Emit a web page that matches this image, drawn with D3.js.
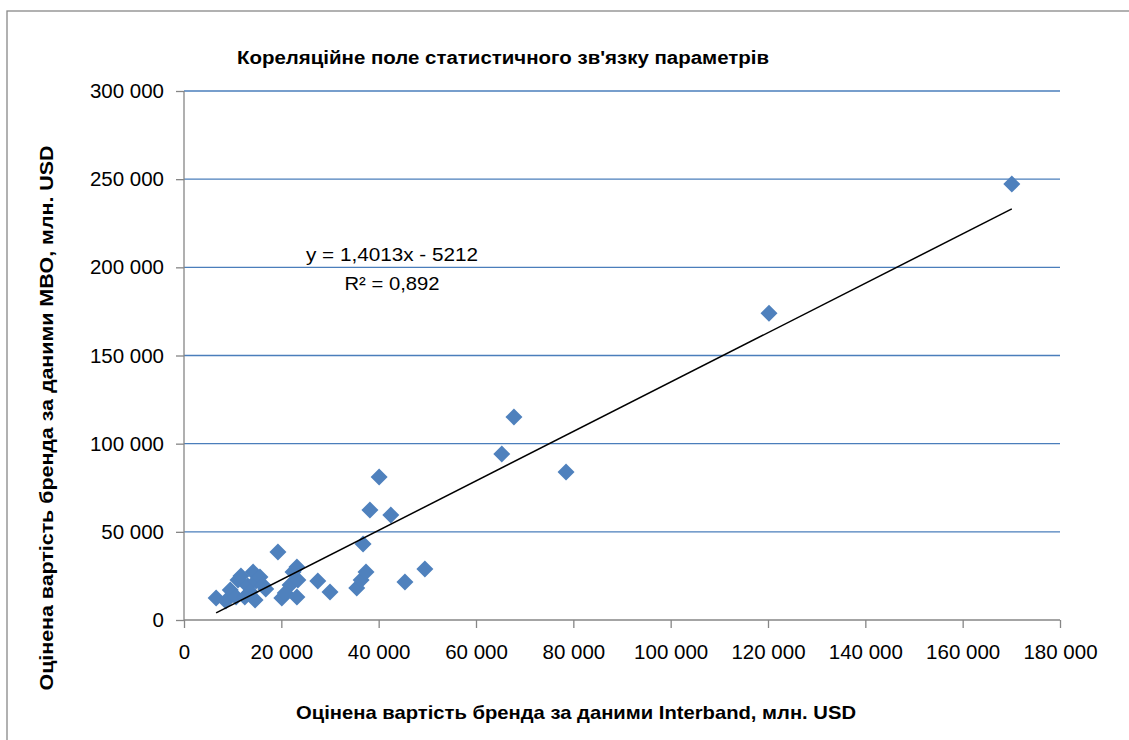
<!DOCTYPE html>
<html><head><meta charset="utf-8">
<script src="https://cdn.jsdelivr.net/npm/d3@7"></script>
<style>body{margin:0;background:#fff}svg{display:block}</style>
</head><body>
<script>
const interbandValues = [6.6, 8.6, 9.5, 10.7, 11.1, 11.7, 12.5, 13.1, 13.6, 14.2, 14.8, 15.6, 16.2, 16.8, 14.6, 19.3, 20.1, 21.8, 22.4, 23.2, 23.4, 20.8, 23.2, 27.5, 30.0, 35.5, 36.4, 37.4, 36.8, 45.4, 49.5, 38.2, 42.5, 40.1, 65.3, 67.8, 78.5, 120.2, 170.1].map(v => v * 1000);
const mboValues = [12.5, 10.8, 17.0, 13.0, 22.7, 24.9, 13.0, 19.3, 15.9, 27.2, 22.1, 24.4, 19.8, 17.6, 11.3, 38.5, 12.5, 19.8, 27.2, 30.0, 22.7, 15.3, 13.0, 22.1, 15.9, 18.1, 22.7, 27.2, 43.1, 21.5, 28.9, 62.4, 59.5, 81.1, 94.1, 115.1, 83.9, 174.0, 247.2].map(v => v * 1000);
const xTicks = [0, 20000, 40000, 60000, 80000, 100000, 120000, 140000, 160000, 180000];
const yTicks = [0, 50000, 100000, 150000, 200000, 250000, 300000];
const slope = 1.4013, intercept = -5212;
const titleText = "Кореляційне поле статистичного зв'язку параметрів";
const xTitle = "Оцінена вартість бренда за даними Interband, млн. USD";
const yTitle = "Оцінена вартість бренда за даними MBO, млн. USD";
const eqText = "y = 1,4013x - 5212";
const r2Text = "R² = 0,892";

const W = 1129, H = 740;
const L = 184, R = 1060, T = 91, B = 620;
const svg = d3.select("body").append("svg").attr("width", W).attr("height", H);
svg.append("rect").attr("x", 7).attr("y", 11).attr("width", 1140).attr("height", 760)
  .attr("fill", "#fff").attr("stroke", "#888").attr("stroke-width", 1.3);

const x = d3.scaleLinear().domain([0, 180000]).range([L, R]);
const y = d3.scaleLinear().domain([0, 300000]).range([B, T]);
const fmt = v => d3.format(",")(v).replace(/,/g, " ");
const font = "'Liberation Sans', Arial, sans-serif";

// gridlines
svg.append("g").selectAll("line").data(yTicks.filter(d => d > 0)).join("line")
  .attr("x1", L).attr("x2", R).attr("y1", d => y(d)).attr("y2", d => y(d))
  .attr("stroke", "#4a7ebb").attr("stroke-width", 1.3);

// y axis
const yAx = svg.append("g").attr("transform", `translate(${L},0)`)
  .call(d3.axisLeft(y).tickValues(yTicks).tickFormat(fmt).tickSize(8).tickPadding(12));
yAx.select(".domain").attr("stroke", "#868686").attr("stroke-width", 1.3).attr("d", `M0,${T}V${B}`);
yAx.selectAll(".tick line").attr("stroke", "#868686").attr("stroke-width", 1.3);
yAx.selectAll("text").attr("font-family", font).attr("font-size", 20.5).attr("fill", "#000");

// x axis
const xAx = svg.append("g").attr("transform", `translate(0,${B})`)
  .call(d3.axisBottom(x).tickValues(xTicks).tickFormat(fmt).tickSize(8).tickPadding(16));
xAx.select(".domain").attr("stroke", "#868686").attr("stroke-width", 1.3).attr("d", `M${L},0H${R}`);
xAx.selectAll(".tick line").attr("stroke", "#868686").attr("stroke-width", 1.3);
xAx.selectAll("text").attr("font-family", font).attr("font-size", 20.5).attr("fill", "#000");

// points
const pts = interbandValues.map((v, i) => [v, mboValues[i]]);
const s = 8.5;
const diamond = `M0,${-s}L${s},0L0,${s}L${-s},0Z`;
svg.append("g").selectAll("path").data(pts).join("path")
  .attr("d", diamond).attr("transform", d => `translate(${x(d[0])},${y(d[1])})`)
  .attr("fill", "#4f81bd");

// trendline
const xmin = d3.min(interbandValues), xmax = d3.max(interbandValues);
svg.append("line")
  .attr("x1", x(xmin)).attr("y1", y(slope * xmin + intercept))
  .attr("x2", x(xmax)).attr("y2", y(slope * xmax + intercept))
  .attr("stroke", "#000").attr("stroke-width", 1.5);

// equation
svg.append("text").attr("x", 392).attr("y", 261).attr("text-anchor", "middle")
  .attr("font-family", font).attr("font-size", 19)
  .attr("textLength", 172).attr("lengthAdjust", "spacingAndGlyphs").text(eqText);
svg.append("text").attr("x", 392).attr("y", 290).attr("text-anchor", "middle")
  .attr("font-family", font).attr("font-size", 19)
  .attr("textLength", 95).attr("lengthAdjust", "spacingAndGlyphs").text(r2Text);

// titles
svg.append("text").attr("x", 503).attr("y", 64).attr("text-anchor", "middle")
  .attr("font-family", font).attr("font-weight", "bold").attr("font-size", 18)
  .attr("textLength", 532).attr("lengthAdjust", "spacingAndGlyphs").text(titleText);
svg.append("text").attr("x", 576).attr("y", 719).attr("text-anchor", "middle")
  .attr("font-family", font).attr("font-weight", "bold").attr("font-size", 19)
  .attr("textLength", 560).attr("lengthAdjust", "spacingAndGlyphs").text(xTitle);
svg.append("text").attr("transform", "translate(53,418) rotate(-90)").attr("text-anchor", "middle")
  .attr("font-family", font).attr("font-weight", "bold").attr("font-size", 19)
  .attr("textLength", 545).attr("lengthAdjust", "spacingAndGlyphs").text(yTitle);
</script>
</body></html>
